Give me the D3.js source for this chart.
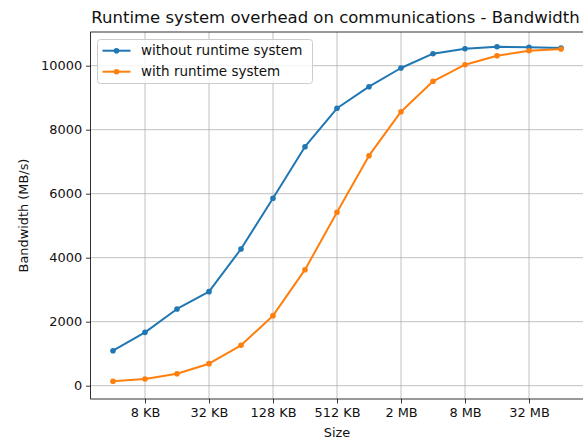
<!DOCTYPE html>
<html>
<head>
<meta charset="utf-8">
<script src="https://cdn.jsdelivr.net/npm/d3@7"></script>
<style>
  html, body { margin: 0; padding: 0; background: #fff; }
  svg { display: block; font-family: "DejaVu Sans", sans-serif; }
</style>
</head>
<body>
<svg id="chart" width="583" height="441"></svg>
<script>
// Message sizes in bytes (4 KB .. 64 MB, powers of two)
const sizes = [4096, 8192, 16384, 32768, 65536, 131072, 262144, 524288,
  1048576, 2097152, 4194304, 8388608, 16777216, 33554432, 67108864];

// Bandwidth in MB/s
const withoutRuntime = [1094, 1667, 2397, 2938, 4272, 5856, 7469, 8669,
  9344, 9928, 10375, 10531, 10594, 10575, 10553];
const withRuntime = [137, 209, 375, 688, 1262, 2188, 3625, 5418,
  7188, 8563, 9513, 10031, 10313, 10469, 10522];

const seriesNames = ["without runtime system", "with runtime system"];
const seriesColors = ["#1f77b4", "#ff7f0e"];

const xTickValues = [8192, 32768, 131072, 524288, 2097152, 8388608, 33554432];
const xTickLabels = ["8 KB", "32 KB", "128 KB", "512 KB", "2 MB", "8 MB", "32 MB"];
const yTickValues = [0, 2000, 4000, 6000, 8000, 10000];

const svg = d3.select("#chart");
const plotLeft = 90.6, plotRight = 583.4, plotTop = 32, plotBottom = 399;

const x = d3.scaleLog().base(2)
  .domain([4096 * Math.pow(2, -0.7), 67108864 * Math.pow(2, 0.7)])
  .range([plotLeft, plotRight]);
const y = d3.scaleLinear()
  .domain([-416, 11053])
  .range([plotBottom, plotTop]);

// grid
const grid = svg.append("g").attr("stroke", "#b0b0b0").attr("stroke-width", 0.8);
grid.selectAll("line.gx").data(xTickValues).join("line")
  .attr("x1", d => x(d)).attr("x2", d => x(d))
  .attr("y1", plotTop).attr("y2", plotBottom);
grid.selectAll("line.gy").data(yTickValues).join("line")
  .attr("x1", plotLeft).attr("x2", plotRight)
  .attr("y1", d => y(d)).attr("y2", d => y(d));

// series lines and markers
const series = [withoutRuntime, withRuntime];
const line = d3.line().x(d => x(d[0])).y(d => y(d[1]));
series.forEach((vals, i) => {
  const pts = sizes.map((s, k) => [s, vals[k]]);
  const g = svg.append("g");
  g.append("path").datum(pts)
    .attr("d", line)
    .attr("fill", "none")
    .attr("stroke", seriesColors[i])
    .attr("stroke-width", 2)
    .attr("stroke-linejoin", "round")
    .attr("stroke-linecap", "square");
  g.selectAll("circle").data(pts).join("circle")
    .attr("cx", d => x(d[0])).attr("cy", d => y(d[1]))
    .attr("r", 2.8)
    .attr("fill", seriesColors[i]);
});

// axes
const xAxis = d3.axisBottom(x)
  .tickValues(xTickValues)
  .tickFormat((d, i) => xTickLabels[i])
  .tickSizeOuter(0).tickSize(4.5).tickPadding(4);
const yAxis = d3.axisLeft(y)
  .tickValues(yTickValues)
  .tickFormat(d3.format("d"))
  .tickSizeOuter(0).tickSize(4.5).tickPadding(4);

const gx = svg.append("g").attr("transform", `translate(0,${plotBottom})`).call(xAxis);
const gy = svg.append("g").attr("transform", `translate(${plotLeft},0)`).call(yAxis);
[gx, gy].forEach(g => {
  g.select(".domain").remove();
  g.selectAll(".tick line").attr("stroke", "#000").attr("stroke-width", 0.8);
  g.selectAll(".tick text").attr("fill", "#111")
    .style("font-family", "DejaVu Sans").style("font-size", "12.9px");
});

// spines
svg.append("rect")
  .attr("x", plotLeft).attr("y", plotTop)
  .attr("width", plotRight - plotLeft).attr("height", plotBottom - plotTop)
  .attr("fill", "none").attr("stroke", "#000").attr("stroke-width", 0.8);

// title and axis labels
svg.append("text")
  .attr("x", 335.5).attr("y", 23)
  .attr("text-anchor", "middle")
  .style("font-size", "16.5px").attr("fill", "#111")
  .text("Runtime system overhead on communications - Bandwidth");
svg.append("text")
  .attr("x", (plotLeft + plotRight) / 2).attr("y", 437)
  .attr("text-anchor", "middle")
  .style("font-size", "12.9px").attr("fill", "#111")
  .text("Size");
svg.append("text")
  .attr("transform", `translate(28,${(plotTop + plotBottom) / 2}) rotate(-90)`)
  .attr("text-anchor", "middle")
  .style("font-size", "12.9px").attr("fill", "#111")
  .text("Bandwidth (MB/s)");

// legend
const lg = svg.append("g");
lg.append("rect")
  .attr("x", 97.5).attr("y", 39.5).attr("width", 215).attr("height", 44)
  .attr("rx", 3).attr("fill", "#fff").attr("fill-opacity", 0.8)
  .attr("stroke", "#ccc").attr("stroke-width", 1);
seriesNames.forEach((name, i) => {
  const yy = 50.7 + i * 21;
  lg.append("line").attr("x1", 102.5).attr("x2", 130.5)
    .attr("y1", yy).attr("y2", yy)
    .attr("stroke", seriesColors[i]).attr("stroke-width", 2);
  lg.append("circle").attr("cx", 116.5).attr("cy", yy).attr("r", 2.8)
    .attr("fill", seriesColors[i]);
  lg.append("text").attr("x", 141).attr("y", yy).attr("dy", "0.35em")
    .style("font-size", "13.5px").attr("fill", "#111")
    .text(name);
});
</script>
</body>
</html>
